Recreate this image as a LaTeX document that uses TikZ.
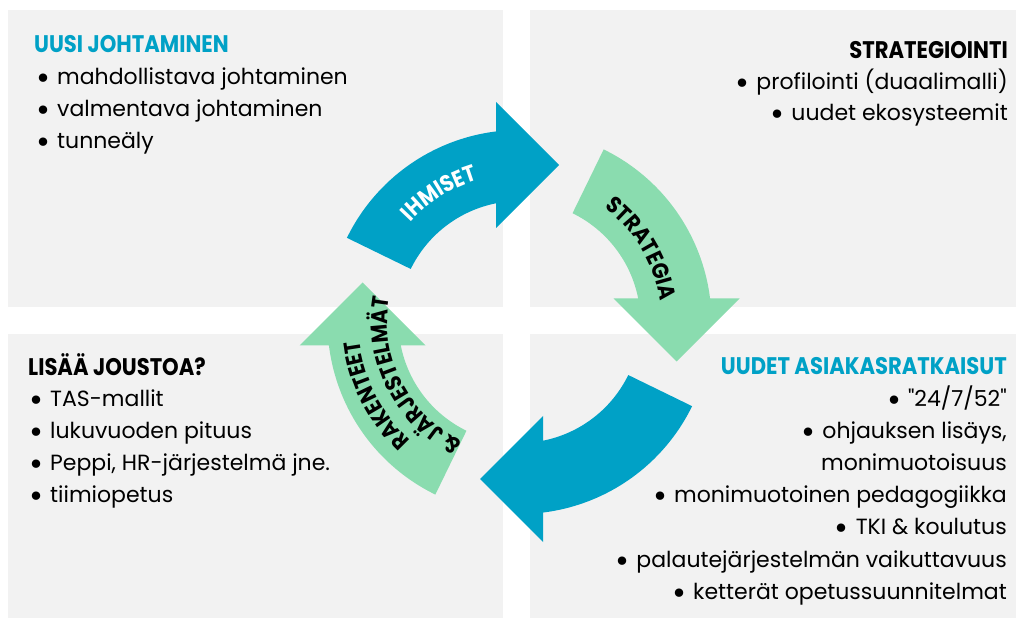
\documentclass[tikz,border=0pt]{standalone}
\usepackage{fontspec}
\setmainfont{Poppins}
\newfontfamily\headfont{Poppins}[FakeStretch=0.88]
\usetikzlibrary{decorations.text}

\definecolor{ringblue}{HTML}{00A1C6}
\definecolor{ringgreen}{HTML}{8ADCAF}
\definecolor{panelgray}{HTML}{F2F2F2}

\newcommand{\itm}{\raisebox{-5pt}{\fontsize{34}{34}\selectfont\textbullet}\hspace{7pt}}
\newcommand{\lblfont}{\fontsize{23}{24}\headfont\bfseries}

% one quarter of the cycle, drawn as the top one and turned
\newcommand{\ringarrow}[2]{%
  \begin{scope}[shift={(519.5,296)},rotate=#1]
    \fill[#2] (154:192) arc[start angle=154,end angle=97.03,radius=192]
      -- (-23.5,220) -- (39.5,157) -- (-23.5,94)
      -- (101.2:121) arc[start angle=101.2,end angle=154,radius=121] -- cycle;
  \end{scope}}

\tikzset{
  panel/.style={fill=panelgray},
  body/.style={inner sep=0pt,font=\fontsize{22}{24}\selectfont},
  heading/.style={inner sep=0pt,font=\fontsize{24}{24}\headfont\bfseries},
  ringlabel/.style={decorate,decoration={text along path,text align=center,text={#1}}}
}

\begin{document}
\begin{tikzpicture}[x=1pt,y=1pt]
  \useasboundingbox (0,0) rectangle (1016,618);
  % panels
  \fill[panel] (8,311) rectangle (503,608);
  \fill[panel] (530,311) rectangle (1016,608);
  \fill[panel] (8,0) rectangle (503,284);
  \fill[panel] (530,0) rectangle (1016,284);

  % cycle
  \ringarrow{0}{ringblue}
  \ringarrow{-90}{ringgreen}
  \ringarrow{-180}{ringblue}
  \ringarrow{-270}{ringgreen}

  \begin{scope}[shift={(519.5,296)}]
    \path[ringlabel={|\lblfont\color{white}|IHMISET}] (162:148) arc[start angle=162,end angle=82,radius=148];
    \path[ringlabel={|\lblfont|STRATEGIA}] (76:142) arc[start angle=76,end angle=-14,radius=142];
    \path[ringlabel={|\lblfont|RAKENTEET}] (252:161) arc[start angle=252,end angle=162,radius=161];
    \path[ringlabel={|\lblfont|{\&} JÄRJESTELMÄT}] (264:132) arc[start angle=264,end angle=150,radius=132];
  \end{scope}

  % top left
  \node[heading,text=ringblue,anchor=base west] (johtaminen) at (34,565) {UUSI JOHTAMINEN};
  \foreach \txt [count=\i] in {mahdollistava johtaminen,valmentava johtaminen,tunneäly}
    \node[body,anchor=base west] (johtaminen\i) at (36,565-32*\i) {\itm\txt};

  % top right
  \node[heading,anchor=base east] (strategiointi) at (1008,559) {STRATEGIOINTI};
  \foreach \txt [count=\i] in {profilointi (duaalimalli),uudet ekosysteemit}
    \node[body,anchor=base east] (strategiointi\i) at (1008,559-31*\i) {\itm\txt};

  % bottom left
  \node[heading,anchor=base west] (joustoa) at (28,242) {LISÄÄ JOUSTOA?};
  \foreach \txt [count=\i] in {TAS-mallit,lukuvuoden pituus,{Peppi, HR-järjestelmä jne.},tiimiopetus}
    \node[body,anchor=base west] (joustoa\i) at (29,243-32*\i) {\itm\txt};

  % bottom right
  \node[heading,text=ringblue,anchor=base east] (ratkaisut) at (1007,243) {UUDET ASIAKASRATKAISUT};
  \foreach \txt [count=\i] in {{\itm\addfontfeatures{Ligatures=TeXOff}"24/7/52"},{\itm ohjauksen lisäys,\ },monimuotoisuus,
      \itm monimuotoinen pedagogiikka,\itm TKI \& koulutus,
      \itm palautejärjestelmän vaikuttavuus,\itm ketterät opetussuunnitelmat}
    \node[body,anchor=base east] (ratkaisut\i) at (1007,243-32*\i) {\txt};
\end{tikzpicture}
\end{document}
